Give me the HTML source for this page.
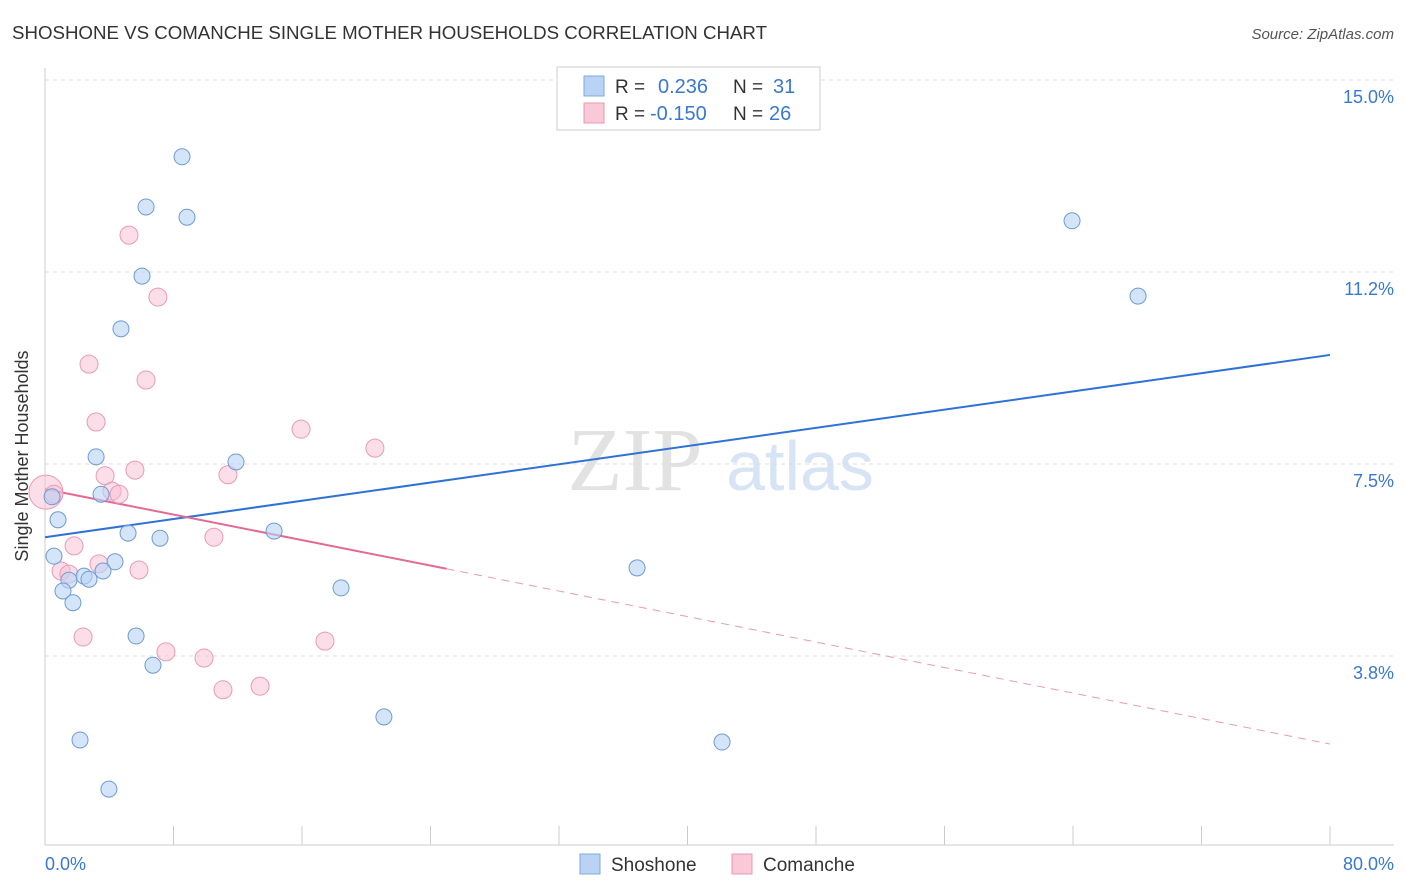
<!DOCTYPE html>
<html><head><meta charset="utf-8"><style>
body{margin:0;background:#fff;font-family:"Liberation Sans",sans-serif}
svg{display:block}
</style></head><body>
<svg width="1406" height="892" xmlns="http://www.w3.org/2000/svg">
<text x="12" y="39" font-size="18" fill="#333" textLength="755" lengthAdjust="spacingAndGlyphs">SHOSHONE VS COMANCHE SINGLE MOTHER HOUSEHOLDS CORRELATION CHART</text>
<text x="1394" y="39" font-size="15" fill="#555" font-style="italic" text-anchor="end">Source: ZipAtlas.com</text>
<g><text x="635" y="490" font-size="90" fill="#e2e2e2" font-family="Liberation Serif,serif" text-anchor="middle">ZIP</text><text x="800" y="490" font-size="70" fill="#d6e4f5" text-anchor="middle">atlas</text></g>
<g id="grid"></g><g id="axes"></g><g id="trend"></g><g id="pts"></g>
<text x="28" y="456" font-size="18" fill="#333" text-anchor="middle" transform="rotate(-90 28 456)">Single Mother Households</text>
<text x="45" y="870" font-size="18" fill="#3a78d0">0.0%</text>
<text x="1394" y="870" font-size="18" fill="#3a78d0" text-anchor="end">80.0%</text>
<g>
<rect x="557" y="67" width="263" height="63" fill="#fff" stroke="#ccc"/>
<rect x="584" y="76" width="20" height="20" fill="#b9d3f5" stroke="#7fa8e0"/>
<rect x="584" y="103" width="20" height="20" fill="#f9c9d8" stroke="#e898b2"/>
<text x="615" y="93" font-size="19" fill="#333">R =</text><text x="658" y="93" font-size="20" fill="#3a78d0">0.236</text>
<text x="733" y="93" font-size="19" fill="#333">N =</text><text x="773" y="93" font-size="20" fill="#3a78d0">31</text>
<text x="615" y="120" font-size="19" fill="#333">R =</text><text x="650" y="120" font-size="20" fill="#3a78d0">-0.150</text>
<text x="733" y="120" font-size="19" fill="#333">N =</text><text x="769" y="120" font-size="20" fill="#3a78d0">26</text>
</g>
<g>
<rect x="580" y="854" width="20" height="20" fill="#b9d3f5" stroke="#7fa8e0"/>
<text x="611" y="871" font-size="19" fill="#333">Shoshone</text>
<rect x="732" y="854" width="20" height="20" fill="#f9c9d8" stroke="#e898b2"/>
<text x="763" y="871" font-size="19" fill="#333">Comanche</text>
</g>
</svg>
<script>
const yTicks=[15,11.25,7.5,3.75];
const yTickLabels=["15.0%","11.2%","7.5%","3.8%"];
const xTicks=[0,8,16,24,32,40,48,56,64,72,80];
const shoX=[8.53,6.29,8.84,6.04,4.73,3.18,11.89,3.49,0.44,0.81,5.17,7.16,14.26,0.56,4.36,2.43,2.74,3.61,1.49,1.12,1.74,18.43,5.67,6.72,21.10,2.18,3.98,36.86,42.15,63.94,68.05];
const shoY=[13.50,12.52,12.32,11.17,10.14,7.64,7.54,6.91,6.86,6.41,6.15,6.05,6.19,5.70,5.59,5.31,5.25,5.41,5.23,5.02,4.79,5.08,4.14,3.57,2.56,2.11,1.15,5.47,2.07,12.25,10.78];
const comX=[5.23,7.03,2.74,6.29,3.18,15.94,20.54,5.60,3.74,11.39,4.17,4.61,0.06,0.56,1.81,10.52,3.36,5.85,1.00,1.49,2.37,7.53,17.43,9.90,11.08,13.39];
const comY=[11.97,10.76,9.45,9.14,8.32,8.18,7.81,7.38,7.27,7.29,6.97,6.91,6.95,6.91,5.90,6.07,5.55,5.43,5.41,5.35,4.12,3.83,4.04,3.71,3.09,3.16];
const comR=[9,9,9,9,9,9,9,9,9,9,9,9,17,9,9,9,9,9,9,9,9,9,9,9,9,9];
const shoTrend=[6.07,9.63];
const comTrend=[7.01,2.03];
const comSolidEnd=25;
const X=v=>45+v*1285/80, Y=v=>848-v*51.2;
const NS="http://www.w3.org/2000/svg";
function mk(t,a,p){const e=document.createElementNS(NS,t);for(const k in a)e.setAttribute(k,a[k]);document.getElementById(p).appendChild(e);return e;}
yTicks.forEach((t,i)=>{
 const l=mk('line',{x1:45,x2:1394,y1:Y(t),y2:Y(t),stroke:'#ddd','stroke-dasharray':'4,4'},'grid');
 
 
 const tx=mk('text',{x:1394,y:Y(t)+23,'font-size':18,fill:'#3a78d0','text-anchor':'end'},'grid');
 tx.textContent=yTickLabels[i];
 
 
});
const tl=mk('line',{x1:45,x2:1394,y1:80,y2:80,stroke:'#ddd','stroke-dasharray':'4,4'},'grid');


const ya=mk('line',{x1:45,x2:45,y1:68,y2:845,stroke:'#ccc'},'axes');


const xa=mk('line',{x1:45,x2:1394,y1:845,y2:845,stroke:'#ccc'},'axes');


xTicks.forEach(t=>{const l=mk('line',{x1:X(t),x2:X(t),y1:826,y2:845,stroke:'#ccc'},'axes');
 
 });
comX.forEach((x,i)=>{const c=mk('circle',{cx:X(x),cy:Y(comY[i]),r:comR[i],fill:'rgba(249,190,210,0.5)',stroke:'#e99ab5','stroke-width':1},'pts');
 
 });
shoX.forEach((x,i)=>{const c=mk('circle',{cx:X(x),cy:Y(shoY[i]),r:8,fill:'rgba(185,211,245,0.6)',stroke:'#6f9ad6','stroke-width':1},'pts');
 
 });
const cy=v=>comTrend[0]+(comTrend[1]-comTrend[0])*v/80;
const b=mk('line',{x1:X(0),y1:Y(shoTrend[0]),x2:X(80),y2:Y(shoTrend[1]),stroke:'#2f72d6','stroke-width':2},'trend');


const p1=mk('line',{x1:X(0),y1:Y(cy(0)),x2:X(comSolidEnd),y2:Y(cy(comSolidEnd)),stroke:'#e46a96','stroke-width':2},'trend');


const p2=mk('line',{x1:X(comSolidEnd),y1:Y(cy(comSolidEnd)),x2:X(80),y2:Y(cy(80)),stroke:'#e89ab5','stroke-width':1,'stroke-dasharray':'8,6'},'trend');


</script>
</body></html>
